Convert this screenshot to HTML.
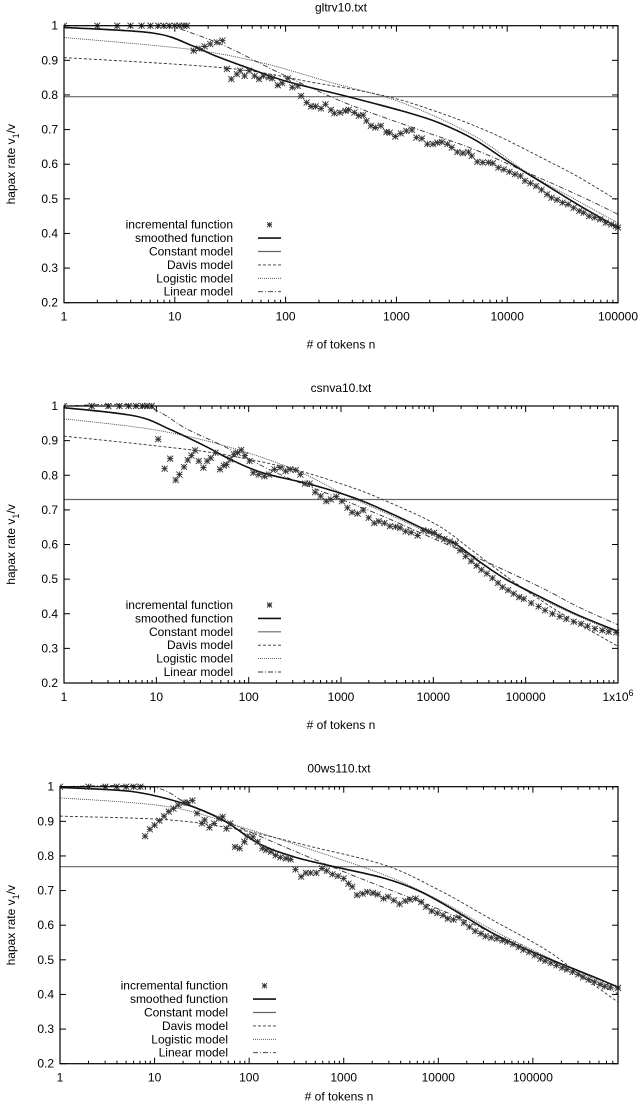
<!DOCTYPE html>
<html><head><meta charset="utf-8">
<style>
html,body{margin:0;padding:0;background:#fff;}
svg{display:block;font-family:"Liberation Sans",Arial,sans-serif;}
</style></head>
<body>
<svg id="chart" width="640" height="1102" viewBox="0 0 640 1102" xmlns="http://www.w3.org/2000/svg"></svg>
<script>
// ---------- Panel 1: gltrv10.txt (x values are log10 of n) ----------
const p1IncLog = [0,0.30,0.48,0.60,0.70,0.78,0.85,0.90,0.95,1.0,1.04,1.08,1.11,1.17,1.22,1.27,1.32,1.38,1.43,1.47,1.51,1.56,1.59,1.63,1.67,1.72,1.76,1.80,1.85,1.88,1.93,1.97,2.02,2.06,2.11,2.14,2.19,2.23,2.27,2.32,2.36,2.41,2.44,2.49,2.54,2.57,2.62,2.66,2.70,2.73,2.77,2.81,2.86,2.91,2.94,2.99,3.04,3.09,3.14,3.18,3.23,3.28,3.33,3.37,3.41,3.46,3.50,3.55,3.60,3.65,3.68,3.73,3.78,3.83,3.87,3.92,3.97,4.02,4.07,4.12,4.16,4.21,4.26,4.31,4.36,4.40,4.45,4.50,4.55,4.60,4.65,4.69,4.74,4.79,4.84,4.89,4.94,4.98,5.0];
const p1IncVal = [1,1,1,1,1,1,1,1,1,1,1,1,1,.928,.934,.940,.947,.952,.957,.875,.846,.860,.870,.855,.870,.855,.846,.855,.851,.848,.828,.834,.848,.822,.826,.797,.778,.767,.767,.761,.773,.757,.747,.749,.754,.757,.749,.740,.742,.725,.711,.706,.711,.693,.691,.680,.689,.696,.699,.677,.674,.658,.658,.662,.664,.658,.648,.635,.632,.635,.624,.607,.605,.605,.603,.590,.585,.578,.571,.566,.552,.545,.537,.526,.513,.503,.497,.489,.484,.474,.465,.460,.450,.446,.441,.431,.426,.421,.417];
const p1SmLog = [0,0.8,1.16,1.35,1.61,2.0,2.5,3.05,3.38,3.7,4.02,4.34,4.66,5.0];
const p1SmVal = [.995,.979,.942,.915,.884,.84,.80,.754,.72,.672,.605,.542,.479,.417];
const p1Const = 0.795;
const p1DavLog = [0,1.48,2.25,2.9,3.38,3.86,4.34,4.66,5.0];
const p1DavVal = [.908,.877,.836,.797,.75,.69,.614,.56,.494];
const p1LogiLog = [0,1.13,1.77,2.41,3.05,3.7,4.18,4.66,5.0];
const p1LogiVal = [.966,.932,.894,.836,.778,.682,.576,.49,.43];
const p1LinLog = [0,1.03,1.06,1.45,2.0,2.57,3.2,3.7,4.18,4.66,5.0];
const p1LinVal = [1,1,.99,.942,.855,.773,.70,.643,.576,.508,.455];
const p1XTicks = ["1","10","100","1000","10000","100000"];

// ---------- Panel 2: csnva10.txt ----------
const p2IncLog = [0,0.30,0.48,0.60,0.70,0.78,0.85,0.90,0.95,1.02,1.09,1.15,1.21,1.25,1.30,1.34,1.38,1.42,1.46,1.51,1.55,1.59,1.64,1.69,1.73,1.76,1.80,1.84,1.88,1.92,1.96,2.01,2.05,2.11,2.17,2.22,2.28,2.34,2.40,2.45,2.51,2.56,2.61,2.66,2.72,2.78,2.84,2.89,2.95,3.01,3.07,3.12,3.18,3.24,3.30,3.36,3.41,3.47,3.53,3.59,3.64,3.70,3.76,3.83,3.89,3.95,4.01,4.06,4.12,4.18,4.24,4.29,4.35,4.41,4.47,4.52,4.58,4.64,4.70,4.75,4.81,4.87,4.93,4.98,5.06,5.14,5.21,5.29,5.37,5.44,5.52,5.60,5.67,5.75,5.83,5.90,5.98];
const p2IncVal = [1,1,1,1,1,1,1,1,1,.904,.819,.848,.786,.802,.824,.844,.857,.872,.841,.822,.841,.85,.865,.817,.828,.831,.846,.86,.865,.873,.857,.841,.807,.802,.797,.802,.817,.822,.812,.817,.815,.802,.776,.776,.751,.74,.725,.73,.738,.725,.706,.693,.689,.699,.677,.662,.667,.662,.653,.651,.648,.638,.635,.626,.641,.638,.634,.624,.616,.609,.603,.583,.566,.552,.539,.527,.516,.503,.489,.477,.468,.458,.448,.443,.431,.421,.41,.40,.392,.385,.377,.371,.364,.357,.352,.348,.346];
const p2SmLog = [0,0.77,1.15,1.53,1.8,2.15,2.68,3.14,3.53,3.91,4.22,4.52,4.79,5.18,5.56,6.0];
const p2SmVal = [.995,.971,.932,.884,.846,.807,.773,.735,.691,.643,.605,.547,.499,.446,.397,.349];
const p2Const = 0.73;
const p2DavLog = [0,0.96,1.73,2.49,3.07,3.45,4.03,4.41,4.79,5.18,5.56,6.0];
const p2DavVal = [.913,.886,.86,.817,.769,.73,.658,.585,.508,.436,.373,.306];
const p2LogiLog = [0,0.96,1.73,2.49,3.07,3.64,4.22,4.79,5.37,6.0];
const p2LogiVal = [.963,.932,.886,.817,.74,.672,.595,.499,.417,.344];
const p2LinLog = [0,0.85,1.34,1.73,2.3,2.88,3.45,4.03,4.6,5.18,5.56,6.0];
const p2LinVal = [1,1,.932,.884,.807,.744,.682,.614,.547,.474,.421,.368];
const p2XTicks = ["1","10","100","1000","10000","100000","1x10^6"];

// ---------- Panel 3: 00ws110.txt ----------
const p3IncLog = [0,0.30,0.48,0.60,0.70,0.78,0.85,0.9,0.95,1.0,1.05,1.1,1.15,1.2,1.25,1.31,1.35,1.4,1.45,1.5,1.53,1.58,1.63,1.68,1.72,1.76,1.8,1.85,1.9,1.95,1.98,2.04,2.09,2.14,2.18,2.23,2.28,2.33,2.39,2.44,2.49,2.55,2.6,2.65,2.71,2.77,2.82,2.88,2.94,3.0,3.05,3.09,3.14,3.2,3.25,3.31,3.36,3.42,3.47,3.53,3.59,3.65,3.7,3.76,3.82,3.87,3.93,3.99,4.05,4.1,4.16,4.22,4.27,4.33,4.39,4.45,4.5,4.56,4.62,4.68,4.73,4.79,4.85,4.9,4.96,5.02,5.08,5.13,5.19,5.25,5.31,5.36,5.42,5.48,5.53,5.59,5.65,5.71,5.76,5.82,5.9];
const p3IncVal = [1,1,1,1,1,1,1,.857,.877,.889,.902,.915,.928,.937,.947,.954,.954,.96,.923,.894,.904,.882,.894,.908,.913,.879,.894,.826,.822,.841,.857,.855,.841,.822,.817,.812,.802,.796,.793,.79,.761,.74,.751,.751,.751,.764,.757,.747,.742,.735,.72,.711,.687,.691,.696,.693,.689,.677,.682,.672,.661,.67,.674,.677,.667,.653,.641,.635,.629,.619,.616,.622,.607,.595,.583,.576,.568,.564,.561,.556,.552,.545,.537,.529,.522,.513,.503,.497,.491,.484,.477,.472,.465,.458,.45,.443,.436,.429,.423,.421,.419];
const p3SmLog = [0,0.76,1.3,1.72,2.1,2.48,2.9,3.44,3.82,4.2,4.58,4.96,5.34,5.73,5.9];
const p3SmVal = [.998,.986,.952,.904,.836,.797,.769,.735,.696,.638,.576,.527,.484,.441,.421];
const p3Const = 0.769;
const p3DavLog = [0,1.15,1.91,2.67,3.44,4.01,4.58,5.15,5.53,5.9];
const p3DavVal = [.915,.904,.875,.826,.773,.701,.614,.527,.45,.378];
const p3LogiLog = [0,1.15,1.91,2.67,3.44,4.01,4.58,5.15,5.53,5.9];
const p3LogiVal = [.968,.942,.884,.817,.744,.672,.585,.508,.46,.412];
const p3LinLog = [0,0.95,1.34,1.72,2.29,3.05,3.63,4.2,4.77,5.34,5.9];
const p3LinVal = [1,1,.952,.904,.836,.749,.687,.624,.552,.479,.402];
const p3XTicks = ["1","10","100","1000","10000","100000"];

const yTicks = ["0.2","0.3","0.4","0.5","0.6","0.7","0.8","0.9","1"];

const NS = "http://www.w3.org/2000/svg";
const svg = document.getElementById("chart");
function mk(tag, attrs, parent){
  const e = document.createElementNS(NS, tag);
  for (const k in attrs) e.setAttribute(k, attrs[k]);
  (parent||svg).appendChild(e);
  return e;
}

function panel(cfg){
  const g = mk("g", {});
  
  
  const L=cfg.left, R=cfg.right, T=cfg.top, B=cfg.bottom;
  const xs = d => L + d/cfg.xmax*(R-L);
  const ys = v => B - (v-0.2)/0.8*(B-T);

  const t = mk("text", {x:(L+R)/2, y:T-14, "text-anchor":"middle", "font-size":"12"}, g);
  t.textContent = cfg.title;
  
  

  yTicks.forEach((lab)=>{
    const v = parseFloat(lab);
    const y = ys(v);
    mk("line",{x1:L,x2:L+6,y1:y,y2:y,stroke:"#000","stroke-width":"1"},g);
    mk("line",{x1:R,x2:R-6,y1:y,y2:y,stroke:"#000","stroke-width":"1"},g);
    const tx = mk("text",{x:L-6,y:y+4,"text-anchor":"end","font-size":"12"},g);
    tx.textContent = lab;
    
    
  });
  for (let d=0; d<cfg.xmax+0.0001; d++){
    for (let m=1;m<10;m++){
      const ld = d + Math.log10(m);
      if (ld > cfg.xmax+1e-6) break;
      const x = xs(ld);
      const len = m===1?6:3;
      mk("line",{x1:x,x2:x,y1:B,y2:B-len,stroke:"#000","stroke-width":"1"},g);
      mk("line",{x1:x,x2:x,y1:T,y2:T+len,stroke:"#000","stroke-width":"1"},g);
    }
  }
  cfg.xticks.forEach((lab,i)=>{
    const x = xs(i);
    const tx = mk("text",{x:x,y:B+18,"text-anchor":"middle","font-size":"12"},g);
    if (lab.indexOf("^")>=0){
      const parts = lab.split("^");
      tx.textContent = parts[0];
      const sp = mk("tspan",{dy:"-5","font-size":"9"},tx);
      sp.textContent = parts[1];
    } else tx.textContent = lab;
    
    
  });
  const xt = mk("text",{x:(L+R)/2,y:B+cfg.xtOff,"text-anchor":"middle","font-size":"12"},g);
  xt.textContent = "# of tokens n";
  
  
  const yc = (T+B)/2;
  const yt = mk("text",{x:0,y:0,"text-anchor":"middle","font-size":"12",transform:`translate(15,${yc}) rotate(-90)`},g);
  yt.textContent = "hapax rate v";
  const sub = mk("tspan",{dy:"4","font-size":"9"},yt); sub.textContent="1";
  const rest = mk("tspan",{dy:"-4"},yt); rest.textContent="/v";
  
  

  const clip = "clip-"+cfg.name;
  const cp = mk("clipPath",{id:clip},g);
  mk("rect",{x:L,y:T-4,width:R-L+4,height:B-T+4},cp);
  const pg = mk("g",{"clip-path":`url(#${clip})`},g);

  // smooth path (Catmull-Rom) through data points
  const path = (lx, vy) => {
    const P = lx.map((d,i)=>[xs(d), ys(vy[i])]);
    let s = "M"+P[0][0].toFixed(1)+","+P[0][1].toFixed(1);
    for (let i=0;i<P.length-1;i++){
      const p0 = P[Math.max(0,i-1)], p1 = P[i], p2 = P[i+1], p3 = P[Math.min(P.length-1,i+2)];
      const c1x = p1[0]+(p2[0]-p0[0])/6, c1y = p1[1]+(p2[1]-p0[1])/6;
      const c2x = p2[0]-(p3[0]-p1[0])/6, c2y = p2[1]-(p3[1]-p1[1])/6;
      s += ` C${c1x.toFixed(1)},${c1y.toFixed(1)} ${c2x.toFixed(1)},${c2y.toFixed(1)} ${p2[0].toFixed(1)},${p2[1].toFixed(1)}`;
    }
    return s;
  };
  const cl = mk("line",{x1:L,x2:R,y1:ys(cfg.cst),y2:ys(cfg.cst),stroke:"#666","stroke-width":"1.2"},pg);
  
  
  const dv = mk("path",{d:path(cfg.davL,cfg.davV),fill:"none",stroke:"#333","stroke-width":"0.9","stroke-dasharray":"3,2"},pg);
  
  
  const lg = mk("path",{d:path(cfg.logL,cfg.logV),fill:"none",stroke:"#444","stroke-width":"0.9","stroke-dasharray":"1,1"},pg);
  
  
  const ln = mk("path",{d:path(cfg.linL,cfg.linV),fill:"none",stroke:"#333","stroke-width":"0.9","stroke-dasharray":"5,2,1,2"},pg);
  
  
  const sm = mk("path",{d:path(cfg.smL,cfg.smV),fill:"none",stroke:"#111","stroke-width":"1.6"},pg);
  
  
  const ig = mk("g",{stroke:"#333","stroke-width":"0.9"},pg);
  
  
  cfg.incL.forEach((d,i)=>{
    const x = xs(d), y = ys(cfg.incV[i]), s=3;
    const p = mk("path",{d:`M${x-s},${y}H${x+s}M${x},${y-s}V${y+s}M${x-s},${y-s}L${x+s},${y+s}M${x-s},${y+s}L${x+s},${y-s}`,fill:"none"},ig);
    
    
  });

  const lgd = mk("g",{},g);
  
  
  const names = ["incremental function","smoothed function","Constant model","Davis model","Logistic model","Linear model"];
  const lx = L + cfg.legX, ly0 = T + 199;
  names.forEach((nm,i)=>{
    const y = ly0 + i*13.4;
    const tx = mk("text",{x:lx,y:y+4,"text-anchor":"end","font-size":"12"},lgd);
    tx.textContent = nm;
    
    
    const x1 = lx+25, x2 = lx+48;
    if (i===0){
      const cx=(x1+x2)/2, s=2.5;
      mk("path",{d:`M${cx-s},${y}H${cx+s}M${cx},${y-s}V${y+s}M${cx-s},${y-s}L${cx+s},${y+s}M${cx-s},${y+s}L${cx+s},${y-s}`,stroke:"#333","stroke-width":"0.9"},lgd);
    } else {
      const st = [null,{stroke:"#111","stroke-width":"1.6"},{stroke:"#666","stroke-width":"1.2"},{stroke:"#333","stroke-width":"0.9","stroke-dasharray":"3,2"},{stroke:"#444","stroke-width":"0.9","stroke-dasharray":"1,1"},{stroke:"#333","stroke-width":"0.9","stroke-dasharray":"5,2,1,2"}][i];
      const a = Object.assign({x1:x1,x2:x2,y1:y,y2:y},st);
      mk("line",a,lgd);
    }
  });

  const fr = mk("rect",{x:L,y:T,width:R-L,height:B-T,fill:"none",stroke:"#000","stroke-width":"1.2"},g);
  
  
}

panel({name:"gltrv10",title:"gltrv10.txt",left:64,right:618,top:25.7,bottom:302.7,xmax:5,xticks:p1XTicks,legX:169,xtOff:46,
  incL:p1IncLog,incV:p1IncVal,smL:p1SmLog,smV:p1SmVal,cst:p1Const,davL:p1DavLog,davV:p1DavVal,logL:p1LogiLog,logV:p1LogiVal,linL:p1LinLog,linV:p1LinVal});
panel({name:"csnva10",title:"csnva10.txt",left:64,right:618,top:406,bottom:683,xmax:6,xticks:p2XTicks,legX:169,xtOff:46,
  incL:p2IncLog,incV:p2IncVal,smL:p2SmLog,smV:p2SmVal,cst:p2Const,davL:p2DavLog,davV:p2DavVal,logL:p2LogiLog,logV:p2LogiVal,linL:p2LinLog,linV:p2LinVal});
panel({name:"00ws110",title:"00ws110.txt",left:60,right:618,top:786.7,bottom:1063.7,xmax:5.9,xticks:p3XTicks,legX:168,xtOff:37,
  incL:p3IncLog,incV:p3IncVal,smL:p3SmLog,smV:p3SmVal,cst:p3Const,davL:p3DavLog,davV:p3DavVal,logL:p3LogiLog,logV:p3LogiVal,linL:p3LinLog,linV:p3LinVal});
</script>
</body></html>
